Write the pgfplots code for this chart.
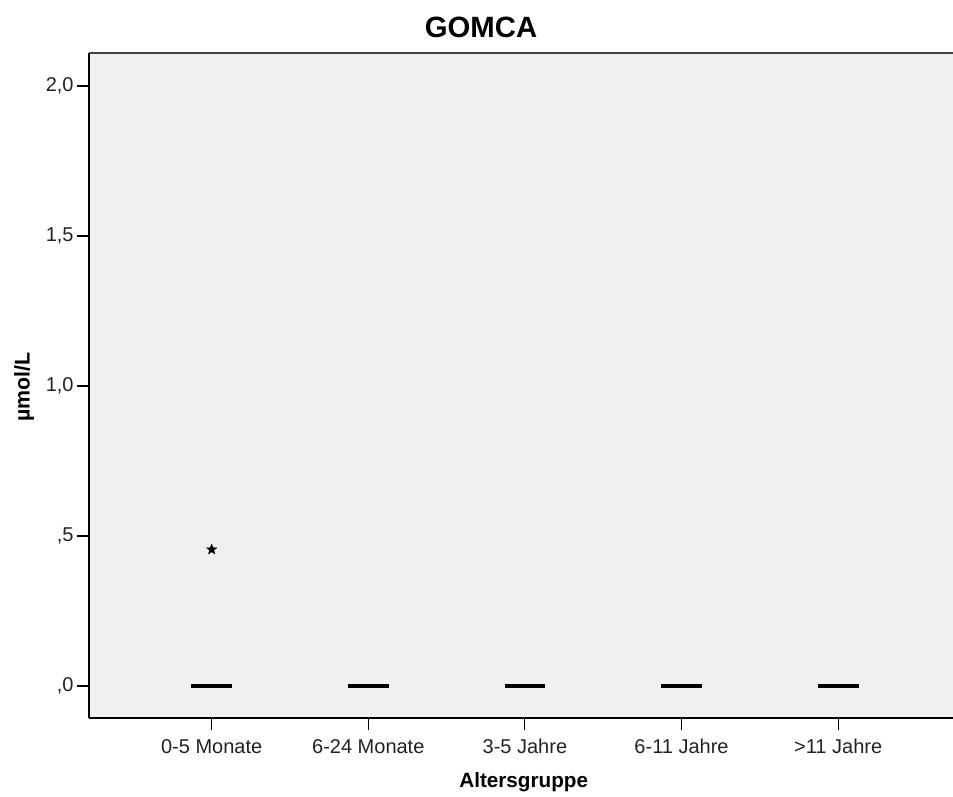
\documentclass[border=0pt]{standalone}
\usepackage{pgfplots}
\pgfplotsset{compat=1.18}
\usepackage{fontspec}
\setmainfont{Liberation Sans}

\definecolor{plotbg}{HTML}{F0F0F0}
\definecolor{ticktext}{HTML}{222222}

% filled five-pointed star for extreme values
\pgfdeclareplotmark{fivestar}{%
  \pgfpathmoveto{\pgfpointpolar{90}{\pgfplotmarksize}}%
  \pgfpathlineto{\pgfpointpolar{126}{0.42\pgfplotmarksize}}%
  \pgfpathlineto{\pgfpointpolar{162}{\pgfplotmarksize}}%
  \pgfpathlineto{\pgfpointpolar{198}{0.42\pgfplotmarksize}}%
  \pgfpathlineto{\pgfpointpolar{234}{\pgfplotmarksize}}%
  \pgfpathlineto{\pgfpointpolar{270}{0.42\pgfplotmarksize}}%
  \pgfpathlineto{\pgfpointpolar{306}{\pgfplotmarksize}}%
  \pgfpathlineto{\pgfpointpolar{342}{0.42\pgfplotmarksize}}%
  \pgfpathlineto{\pgfpointpolar{18}{\pgfplotmarksize}}%
  \pgfpathlineto{\pgfpointpolar{54}{0.42\pgfplotmarksize}}%
  \pgfpathclose
  \pgfusepathqfillstroke}

\begin{document}
\begin{tikzpicture}
% canvas: 1 px = 0.75 pt
\useasboundingbox (0,0) rectangle (714.75pt,-597pt);
\clip (0,0) rectangle (714.75pt,-597pt);
\begin{axis}[
  at={(66.75pt,-39.75pt)}, anchor=north west,
  scale only axis,
  width=660pt, height=498.75pt,
  % 157 px per category, axis runs past the right edge of the canvas
  xmin=-0.7834, xmax=4.8354,
  ymin=-0.1067, ymax=2.11,
  axis background/.style={fill=plotbg},
  axis x line*=bottom, axis y line*=left,
  axis line style={line width=1.1pt, black, -},
  xtick={0,1,2,3,4},
  xticklabels={0-5 Monate,6-24 Monate,3-5 Jahre,6-11 Jahre,>11 Jahre},
  ytick={0,0.5,1,1.5,2},
  yticklabels={{,0},{,5},{1,0},{1,5},{2,0}},
  tick align=outside,
  major tick length=9pt,
  tick style={black, line width=0.8pt},
  tick label style={font=\fontsize{15}{18}\selectfont, text=ticktext},
  xticklabel style={anchor=base, yshift=-17.25pt},
  yticklabel style={anchor=east, xshift=1pt},
  clip=false,
]
% top frame line
\draw[line width=1.1pt, black!75] (axis description cs:0,1) -- (axis description cs:1,1);

% medians (all groups at zero)
\addplot[black, line width=3pt, unbounded coords=jump] coordinates {
  (-0.13,0) (0.13,0) (0.5,nan)
  (0.87,0) (1.13,0) (1.5,nan)
  (1.87,0) (2.13,0) (2.5,nan)
  (2.87,0) (3.13,0) (3.5,nan)
  (3.87,0) (4.13,0)
};

% extreme value
\addplot[only marks, mark=fivestar, mark size=4pt, black,
  mark options={fill=black, line width=0.3pt}] coordinates {(0,0.455)};

% titles
\node[font=\bfseries\fontsize{22}{26}\selectfont, anchor=center]
  at ([yshift=19.5pt]axis description cs:0.4455,1) {GOMCA};
\node[font=\bfseries\fontsize{15.5}{18}\selectfont, anchor=base]
  at ([yshift=-51.75pt]axis description cs:0.494,0) {Altersgruppe};
\node[font=\bfseries\fontsize{16}{18}\selectfont, rotate=90, anchor=center]
  at ([xshift=-48.75pt]axis description cs:0,0.498) {µmol/L};
\end{axis}
\end{tikzpicture}
\end{document}
